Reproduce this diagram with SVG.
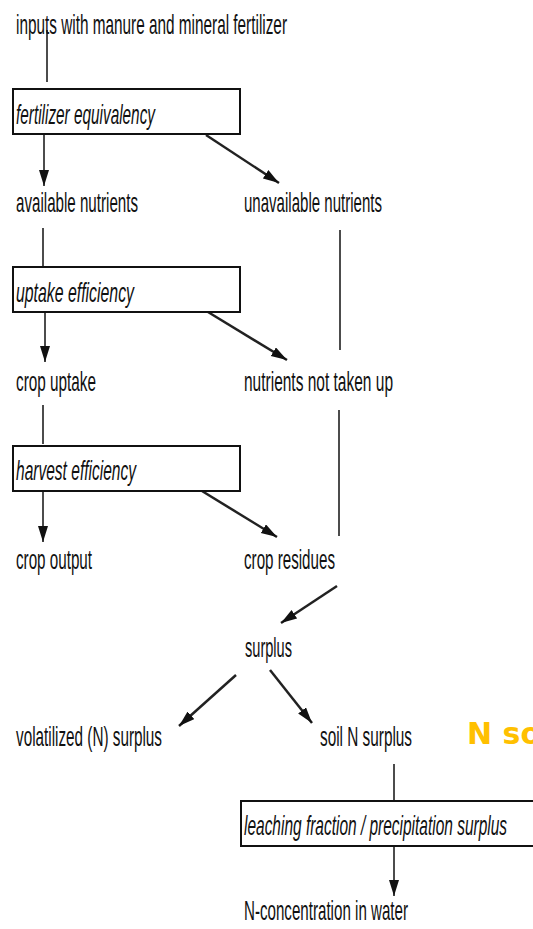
<svg xmlns="http://www.w3.org/2000/svg" width="533" height="929" viewBox="0 0 533 929">
<style>
text{font-family:"Liberation Sans",Arial,sans-serif;font-size:27.5px;fill:#111}
.it{font-style:italic}
.box{fill:#fff;stroke:#111;stroke-width:2}
.ln{stroke:#111;stroke-width:1.5;fill:none}
.ar{stroke:#111;stroke-width:1.5;fill:none;marker-end:url(#ah)}
.dg{stroke:#222;stroke-width:2.5;fill:none;marker-end:url(#ah)}
.ns{font-family:"DejaVu Sans",Verdana,sans-serif;font-weight:bold;font-size:30px;fill:#FFC000}
</style>
<defs>
<marker id="ah" markerUnits="userSpaceOnUse" markerWidth="17" markerHeight="11" refX="16" refY="5" orient="auto">
<path d="M0,0 L16,5 L0,10 z" fill="#111"/>
</marker>
</defs>
<rect width="533" height="929" fill="#fff"/>
<g id="connectors">
<line class="ln" x1="47" y1="30" x2="47" y2="82"/>
<line class="ar" x1="44" y1="135" x2="44" y2="186"/>
<line class="dg" x1="206" y1="135" x2="279" y2="183"/>
<line class="ln" x1="43" y1="228" x2="43" y2="274"/>
<line class="ln" x1="340" y1="230" x2="340" y2="350"/>
<line class="ar" x1="45" y1="312" x2="45" y2="362"/>
<line class="dg" x1="208" y1="312" x2="287" y2="360"/>
<line class="ln" x1="43" y1="405" x2="43" y2="444"/>
<line class="ln" x1="339" y1="410" x2="339" y2="536"/>
<line class="ar" x1="43" y1="491" x2="43" y2="542"/>
<line class="dg" x1="202" y1="491" x2="277" y2="537"/>
<line class="dg" x1="337" y1="586" x2="281" y2="623"/>
<line class="dg" x1="236" y1="675" x2="179" y2="726"/>
<line class="dg" x1="270" y1="670" x2="312" y2="723"/>
<line class="ln" x1="394" y1="764" x2="394" y2="802"/>
<line class="ar" x1="394" y1="847" x2="394" y2="896"/>
</g>
<g id="inputs"><text x="16" y="34" textLength="271" lengthAdjust="spacingAndGlyphs">inputs with manure and mineral fertilizer</text></g>
<g id="fertilizer-equivalency"><rect class="box" x="13" y="89" width="227" height="45"/><text class="it" x="16" y="124" textLength="139" lengthAdjust="spacingAndGlyphs">fertilizer equivalency</text></g>
<g id="available-nutrients"><text x="16" y="212" textLength="122" lengthAdjust="spacingAndGlyphs">available nutrients</text></g>
<g id="unavailable-nutrients"><text x="244" y="212" textLength="138" lengthAdjust="spacingAndGlyphs">unavailable nutrients</text></g>
<g id="uptake-efficiency"><rect class="box" x="13" y="267" width="227" height="45"/><text class="it" x="16" y="302" textLength="118" lengthAdjust="spacingAndGlyphs">uptake efficiency</text></g>
<g id="crop-uptake"><text x="16" y="391" textLength="80" lengthAdjust="spacingAndGlyphs">crop uptake</text></g>
<g id="nutrients-not-taken-up"><text x="244" y="391" textLength="149" lengthAdjust="spacingAndGlyphs">nutrients not taken up</text></g>
<g id="harvest-efficiency"><rect class="box" x="13" y="446" width="227" height="45"/><text class="it" x="16" y="480" textLength="120" lengthAdjust="spacingAndGlyphs">harvest efficiency</text></g>
<g id="crop-output"><text x="16" y="569" textLength="76" lengthAdjust="spacingAndGlyphs">crop output</text></g>
<g id="crop-residues"><text x="244" y="569" textLength="91" lengthAdjust="spacingAndGlyphs">crop residues</text></g>
<g id="surplus"><text x="245" y="657" textLength="47" lengthAdjust="spacingAndGlyphs">surplus</text></g>
<g id="volatilized-surplus"><text x="16" y="746" textLength="146" lengthAdjust="spacingAndGlyphs">volatilized (N) surplus</text></g>
<g id="soil-n-surplus"><text x="320" y="746" textLength="92" lengthAdjust="spacingAndGlyphs">soil N surplus</text></g>
<g id="n-so"><text class="ns" x="467" y="744">N so</text></g>
<g id="leaching-fraction"><rect class="box" x="241" y="801" width="300" height="45"/><text class="it" x="244" y="835" textLength="263" lengthAdjust="spacingAndGlyphs">leaching fraction / precipitation surplus</text></g>
<g id="n-concentration"><text x="244" y="920" textLength="164" lengthAdjust="spacingAndGlyphs">N-concentration in water</text></g>
</svg>
